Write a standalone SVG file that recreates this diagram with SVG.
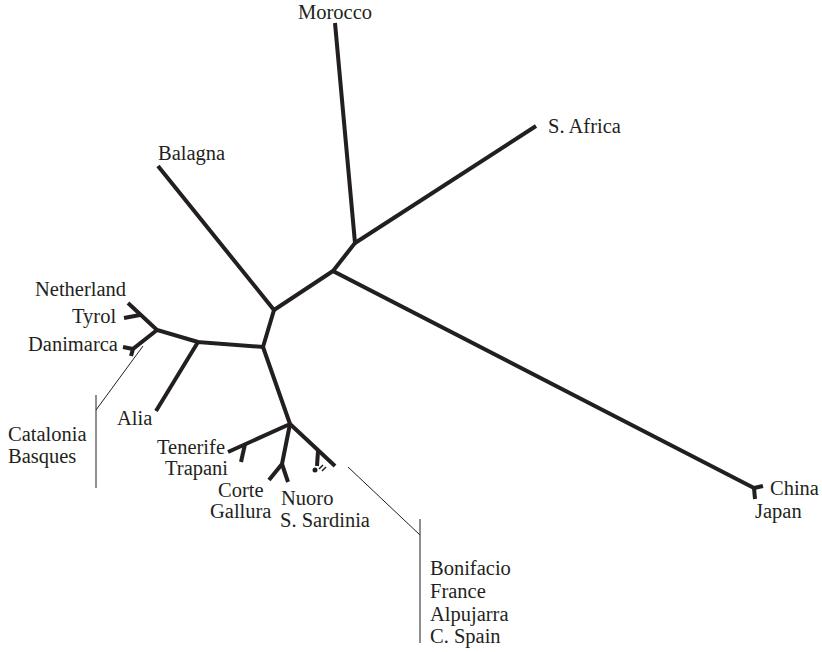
<svg xmlns="http://www.w3.org/2000/svg" width="822" height="652" viewBox="0 0 822 652">
<style>
.b{fill:none;stroke:#231f20;stroke-width:4;stroke-linecap:butt;stroke-linejoin:miter}
.t{fill:none;stroke:#231f20;stroke-width:1}
text{font-family:"Liberation Serif","Times New Roman",serif;font-size:20.5px;fill:#231f20}
</style>
<rect width="822" height="652" fill="#fff"/>
<g id="connectors">
<path class="b" d="M335,23 L355,243 L333,271 L754,488"/>
<path class="b" d="M536,126 L355,243"/>
<path class="b" d="M333,271 L274,310 L158,166"/>
<path class="b" d="M274,310 L263,347 L198,342 L156,411"/>
<path class="b" d="M198,342 L157,330 L128,303"/>
<path class="b" d="M140,315 L124,318"/>
<path class="b" d="M157,330 L133,349 L131,356"/>
<path class="b" d="M133,349 L123,347"/>
<path class="b" d="M263,347 L290,424 L228,452"/>
<path class="b" d="M245,444 L241,462"/>
<path class="b" d="M290,424 L282,464 L269,480"/>
<path class="b" d="M282,464 L288,482"/>
<path class="b" d="M290,424 L335,466"/>
<path class="b" d="M318,451 L317,466"/>
<path class="b" d="M754,488 L763,486"/>
<path class="b" d="M754,488 L755,499"/>
<circle cx="315" cy="470" r="2.5" fill="#231f20"/>
<path d="M319,469 L323,465 M322,471 L326,467" stroke="#231f20" stroke-width="1.5"/>
<path class="t" d="M143,346 L96,410 M96,395 L96,488"/>
<path class="t" d="M348,467 L420,535 M420,519 L420,643"/>
</g>
<g id="morocco"><text x="298" y="19">Morocco</text></g>
<g id="s-africa"><text x="548" y="133">S. Africa</text></g>
<g id="balagna"><text x="158" y="160">Balagna</text></g>
<g id="netherland"><text x="35" y="296">Netherland</text></g>
<g id="tyrol"><text x="72" y="323">Tyrol</text></g>
<g id="danimarca"><text x="28" y="351">Danimarca</text></g>
<g id="alia"><text x="117" y="425">Alia</text></g>
<g id="catalonia-basques"><text x="8" y="441">Catalonia</text><text x="8" y="463">Basques</text></g>
<g id="tenerife-trapani"><text x="157" y="454">Tenerife</text><text x="165" y="475">Trapani</text></g>
<g id="corte-gallura"><text x="218" y="497">Corte</text><text x="210" y="518">Gallura</text></g>
<g id="nuoro-sardinia"><text x="281" y="505">Nuoro</text><text x="280" y="527">S. Sardinia</text></g>
<g id="bonifacio-group"><text x="430" y="575">Bonifacio</text><text x="430" y="598">France</text><text x="430" y="621">Alpujarra</text><text x="430" y="643">C. Spain</text></g>
<g id="china-japan"><text x="770" y="495">China</text><text x="755" y="518">Japan</text></g>
</svg>
